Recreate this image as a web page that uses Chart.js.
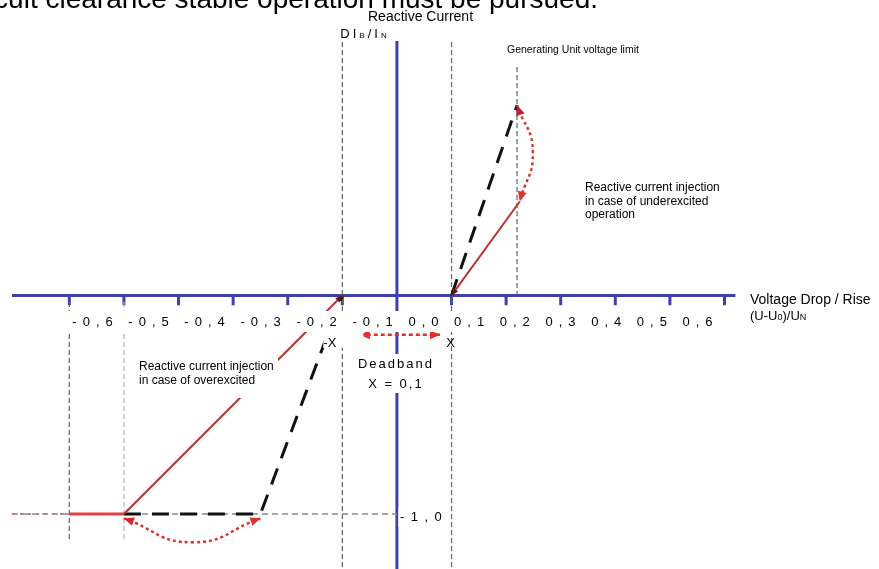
<!DOCTYPE html>
<html>
<head>
<meta charset="utf-8">
<script src="https://cdn.jsdelivr.net/npm/chart.js@4.4.0/dist/chart.umd.min.js"></script>
<style>
  html, body { margin: 0; padding: 0; background: #fff; }
  #wrap { width: 879px; height: 569px; }
</style>
</head>
<body>
<div id="wrap"><canvas id="chart"></canvas></div>
<script>
// voltage deviation ticks (U-U0)/UN
const tickValues = [-0.6, -0.5, -0.4, -0.3, -0.2, -0.1, 0, 0.1, 0.2, 0.3, 0.4, 0.5, 0.6];
const tickLabels = ['-0,6', '-0,5', '-0,4', '-0,3', '-0,2', '-0,1', '0,0', '0,1', '0,2', '0,3', '0,4', '0,5', '0,6'];
const yTickValue = -1.0;
const yTickLabel = '-1,0';

const deadband = 0.1;          // X
const voltageLimit = 0.22;     // generating unit voltage limit
const refVoltages = [-0.6, -0.5];

// overexcited side (voltage drop)
const limitU = [-0.6, -0.5];
const limitI = [-1.0, -1.0];
const overU = [-0.5, -0.1];
const overI = [-1.0, 0];
const overMaxU = [-0.5, -0.25, -0.1];
const overMaxI = [-1.0, -1.0, 0];
const overArcU = [-0.5, -0.375, -0.25];
const overArcI = [-1.02, -1.13, -1.02];

// underexcited side (voltage rise)
const underU = [0.1, 0.225];
const underI = [0, 0.43];
const underMaxU = [0.1, 0.22];
const underMaxI = [0, 0.87];
const underArcU = [0.22, 0.249, 0.225];
const underArcI = [0.87, 0.66, 0.43];

const deadbandArrowU = [-0.068, 0.079];
const deadbandArrowI = [-0.18, -0.18];

// visible window of the drawing
const X_MIN = -0.727, X_MAX = 0.883, Y_MIN = -1.252, Y_MAX = 1.352;
const AXIS_X = [-0.705, 0.62];
const AXIS_Y = [1.17, -1.26];

const FONT = '"Liberation Sans", Arial, sans-serif';
const BLUE = '#4040aa';

const pts = (us, is) => us.map((u, k) => ({ x: u, y: is[k] }));

// axis lines + small tick marks below the horizontal axis
const axisData = [
  { x: AXIS_X[0], y: 0 }, { x: AXIS_X[1], y: 0 }, { x: 0, y: null },
  { x: 0, y: AXIS_Y[0] }, { x: 0, y: AXIS_Y[1] }, { x: 0, y: null }
];
tickValues.forEach(v => {
  axisData.push({ x: v, y: 0 }, { x: v, y: -0.045 }, { x: v, y: null });
});

const guideData = [
  { x: -deadband, y: 1.16 }, { x: -deadband, y: Y_MIN }, { x: 0, y: null },
  { x: deadband, y: 1.16 }, { x: deadband, y: Y_MIN }, { x: 0, y: null },
  { x: voltageLimit, y: 1.045 }, { x: voltageLimit, y: 0 }, { x: 0, y: null },
  { x: refVoltages[0], y: -0.03 }, { x: refVoltages[0], y: -1.125 }
];
const faintGuide = [{ x: refVoltages[1], y: -0.03 }, { x: refVoltages[1], y: -1.125 }];

const line = (data, color, width, dash, extra) => Object.assign({
  data, borderColor: color, borderWidth: width, borderDash: dash || [],
  showLine: true, pointRadius: 0, fill: false, spanGaps: false
}, extra || {});

const datasets = [
  line(pts(deadbandArrowU, deadbandArrowI), '#e0302c', 2.5, [4, 3], { arrowStart: '#e0302c', arrowEnd: '#e0302c' }),
  line(pts(underArcU, underArcI), '#e0302c', 2.5, [3, 3], { tension: 0.5, arrowStart: '#c0202a', arrowEnd: '#e0302c' }),
  line(pts(overArcU, overArcI), '#e0302c', 2.5, [3, 3], { tension: 0.5, arrowStart: '#e0202a', arrowEnd: '#e0302c' }),
  line(pts(underU, underI), '#b8322f', 2, null, { arrowStart: '#5a1a1a', arrowSize: 7 }),
  line(pts(overU, overI), '#b8322f', 2, null, { arrowEnd: '#5a1a1a', arrowSize: 7 }),
  line(pts(limitU, limitI), '#e04040', 3),
  line(pts(underMaxU, underMaxI), '#111', 3, [17, 11]),
  line(pts(overMaxU, overMaxI), '#111', 3, [17, 11]),
  line(pts([AXIS_X[0], refVoltages[0]], [yTickValue, yTickValue]), '#c07a7a', 2, [3, 5]),
  line(pts([AXIS_X[0], 0], [yTickValue, yTickValue]), '#888', 1.5, [6, 4]),
  line(guideData, '#666', 1.2, [5, 3]),
  line(faintGuide, '#b5b5b5', 1.2, [5, 3]),
  line(axisData, BLUE, 3)
];
datasets[datasets.length - 1].borderCapStyle = 'butt';

function spaced(ctx, s, x, y, gap) {
  for (const ch of s) {
    ctx.fillText(ch, x, y);
    x += ctx.measureText(ch).width + gap;
  }
  return x;
}
function spacedWidth(ctx, s, gap) {
  let w = 0;
  for (const ch of s) w += ctx.measureText(ch).width + gap;
  return w - gap;
}

const arrowPlugin = {
  id: 'arrows',
  afterDatasetsDraw(chart) {
    const ctx = chart.ctx;
    chart.data.datasets.forEach((ds, i) => {
      const el = chart.getDatasetMeta(i).data;
      const head = (p, q, color) => {
        const size = ds.arrowSize || 10;
        const a = Math.atan2(p.y - q.y, p.x - q.x);
        ctx.save();
        ctx.fillStyle = color;
        ctx.translate(p.x, p.y);
        ctx.rotate(a);
        ctx.beginPath();
        ctx.moveTo(0, 0);
        ctx.lineTo(-size, -size * 0.45);
        ctx.lineTo(-size, size * 0.45);
        ctx.closePath();
        ctx.fill();
        ctx.restore();
      };
      const n = el.length;
      if (ds.arrowEnd) {
        const p = el[n - 1];
        const q = ds.tension && p.cp1x !== undefined ? { x: p.cp1x, y: p.cp1y } : el[n - 2];
        head(p, q, ds.arrowEnd);
      }
      if (ds.arrowStart) {
        const p = el[0];
        const q = ds.tension && p.cp2x !== undefined ? { x: p.cp2x, y: p.cp2y } : el[1];
        head(p, q, ds.arrowStart);
      }
    });
  }
};

const textPlugin = {
  id: 'texts',
  afterDatasetsDraw(chart) {
    const ctx = chart.ctx;
    const sx = chart.scales.x, sy = chart.scales.y;
    const px = v => sx.getPixelForValue(v);
    const py = v => sy.getPixelForValue(v);
    const box = (x, y, w, h) => { ctx.fillStyle = '#fff'; ctx.fillRect(x, y, w, h); ctx.fillStyle = '#000'; };
    ctx.save();
    ctx.fillStyle = '#000';
    ctx.textBaseline = 'alphabetic';

    // clipped sentence from the page above
    ctx.font = '28px ' + FONT;
    ctx.textAlign = 'right';
    ctx.fillText('cuit clearance stable operation must be pursued.', 598, 8);
    ctx.textAlign = 'left';

    // axis titles
    ctx.font = '14px ' + FONT;
    ctx.fillText('Reactive Current', 368, 21);
    box(px(-deadband) - 3, 26, 66, 15);
    let x = px(-deadband) - 2;
    [['D', 13], ['I', 13], ['B', 8], ['/', 13], ['I', 13], ['N', 8]].forEach(([c, f]) => {
      ctx.font = f + 'px ' + FONT;
      x = spaced(ctx, c, x, 38, 3);
    });

    ctx.font = '14px ' + FONT;
    ctx.fillText('Voltage Drop / Rise', 750, 304);
    x = 750;
    [['(U-U', 13], ['0', 9], [')/U', 13], ['N', 9]].forEach(([c, f]) => {
      ctx.font = f + 'px ' + FONT;
      ctx.fillText(c, x, 320);
      x += ctx.measureText(c).width;
    });

    // tick label row
    ctx.font = '13px ' + FONT;
    box(px(tickValues[0]) - 6, 311, px(tickValues[tickValues.length - 1]) - px(tickValues[0]) + 4, 21);
    ctx.fillStyle = '#000';
    spaced(ctx, tickLabels.join(' '), px(tickValues[0]) + 3, 326, 6);

    // y tick label
    box(px(0) + 1.5, py(yTickValue) - 7, 50, 20);
    ctx.font = '13px ' + FONT;
    spaced(ctx, yTickLabel, px(0) + 3, py(yTickValue) + 7, 6.5);

    // deadband
    ctx.font = '13px ' + FONT;
    box(px(-deadband) - 19, 332, 40, 16);
    ctx.fillText('-X', px(-deadband) - 19, 347);
    ctx.textAlign = 'center';
    ctx.fillText('X', px(deadband) - 1, 347);
    ctx.textAlign = 'left';
    box(px(0) - 45, 354, 90, 39);
    let w = spacedWidth(ctx, 'Deadband', 2);
    spaced(ctx, 'Deadband', px(0) - 2 - w / 2, 368, 2);
    w = spacedWidth(ctx, 'X = 0,1', 2);
    spaced(ctx, 'X = 0,1', px(0) - 2 - w / 2, 388, 2);

    // notes
    ctx.font = '10.5px ' + FONT;
    ctx.fillText('Generating Unit voltage limit', 507, 53);
    ctx.font = '12px ' + FONT;
    ['Reactive current injection', 'in case of underexcited', 'operation']
      .forEach((s, k) => ctx.fillText(s, 585, 191 + k * 13.5));
    box(135, 356, 143, 42);
    ['Reactive current injection', 'in case of overexcited']
      .forEach((s, k) => ctx.fillText(s, 139, 370 + k * 14));
    ctx.restore();
  }
};

new Chart(document.getElementById('chart'), {
  type: 'scatter',
  data: { datasets },
  options: {
    responsive: true,
    maintainAspectRatio: false,
    animation: false,
    layout: { padding: 0 },
    plugins: { legend: { display: false }, tooltip: { enabled: false } },
    scales: {
      x: { type: 'linear', display: false, min: X_MIN, max: X_MAX },
      y: { type: 'linear', display: false, min: Y_MIN, max: Y_MAX }
    }
  },
  plugins: [arrowPlugin, textPlugin]
});
</script>
</body>
</html>
